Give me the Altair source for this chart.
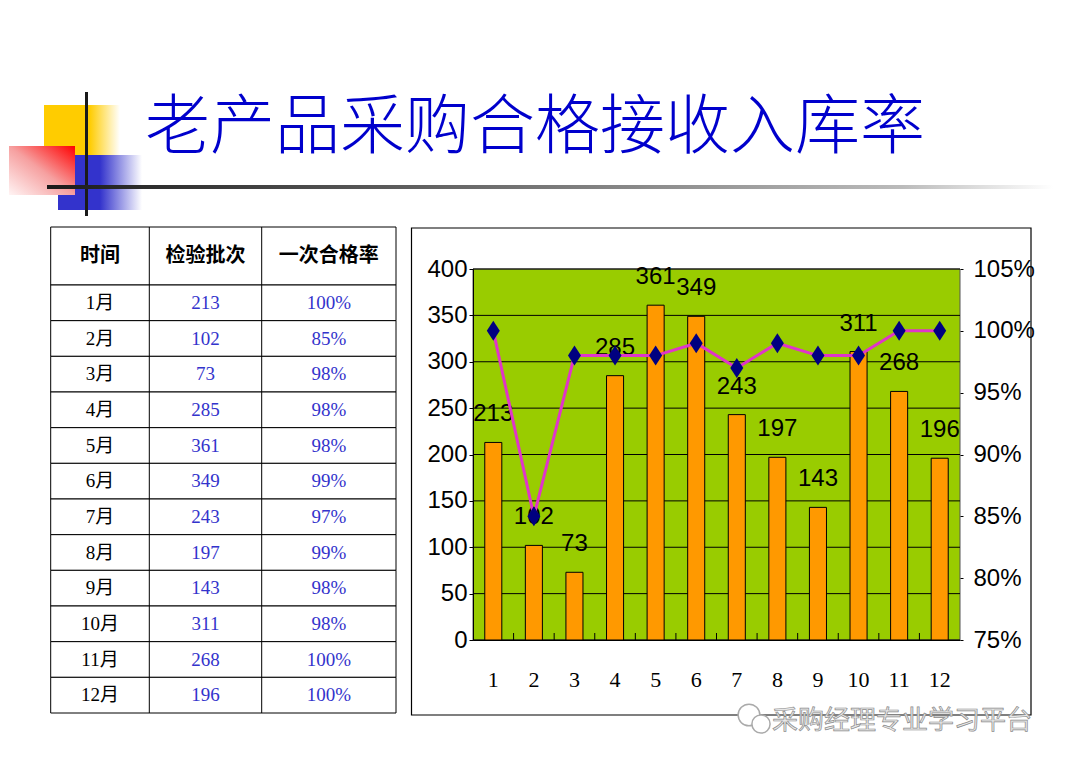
import altair as alt
import pandas as pd

# ---------------- data ----------------
months = list(range(1, 13))
month_labels = [f"{m}月" for m in months]
batches = [213, 102, 73, 285, 361, 349, 243, 197, 143, 311, 268, 196]
rates = [1.00, 0.85, 0.98, 0.98, 0.98, 0.99, 0.97, 0.99, 0.98, 0.98, 1.00, 1.00]
rate_text = ["100%", "85%", "98%", "98%", "98%", "99%", "97%", "99%", "98%", "98%", "100%", "100%"]
table_headers = ["时间", "检验批次", "一次合格率"]
left_ticks = [0, 50, 100, 150, 200, 250, 300, 350, 400]
right_ticks = [0.75, 0.80, 0.85, 0.90, 0.95, 1.00, 1.05]
title_text = "老产品采购合格接收入库率"
watermark_text = "采购经理专业学习平台"

df = pd.DataFrame({"month": months, "label": month_labels, "batches": batches,
                   "rate": rates, "rate_txt": rate_text})
ticks_df = pd.DataFrame({"v": left_ticks})
bounds_df = pd.DataFrame({"month": months[:-1]})
one = pd.DataFrame({"d": [0]})

W, H = 1049, 751
SERIF = "Liberation Serif, 'Noto Sans CJK SC'"
SANS = "Liberation Sans, Arial"
CJK = "'Noto Sans CJK SC'"

# plot geometry (canvas px)
PX0, PX1 = 465, 952
PY0, PY1 = 632, 261
STEP = (PX1 - PX0) / len(months)


def grad(stops, x1=0, y1=0, x2=1, y2=0):
    return alt.LinearGradient(
        gradient="linear",
        stops=[alt.GradientStop(color=c, offset=o) for o, c in stops],
        x1=x1, y1=y1, x2=x2, y2=y2)


def box(x, x2, y, y2, **kw):
    return alt.Chart(one).mark_rect(**kw).encode(
        x=alt.value(x), x2=alt.value(x2), y=alt.value(y), y2=alt.value(y2))


# ---------------- decorations ----------------
yellow = box(36, 112, 97, 150, fill=grad([(0, "#FFCC00"), (0.6, "#FFCC00"), (1, "#FFFFFF")]))
blue = box(50, 134, 147, 202, fill=grad([(0, "#3333CC"), (0.5, "#3333CC"), (1, "#FFFFFF")]))
red = box(1, 67, 138, 187, fill=grad([(0, "#FF0000"), (0.5, "#F6A0A0"), (1, "#FFF4F4")],
                                      x1=1, y1=0, x2=0, y2=1))
vline = box(77, 80, 84, 208, fill="#1A1A1A")
hline = box(39, 1045, 177, 181, fill=grad([(0, "#1A1A1A"), (0.4, "#666666"),
                                           (0.85, "#BBBBBB"), (1, "#FFFFFF")]))
title = alt.Chart(one).mark_text(
    text=title_text, font=CJK, fontSize=65, fontWeight=300, color="#0000CC",
    align="left", baseline="middle").encode(x=alt.value(137), y=alt.value(120))

# ---------------- table ----------------
TX0, TX1 = 42.7, 388
TC1, TC2 = 141.3, 253.7
TY0, TYH, TY1 = 219, 277, 705
row_scale = alt.Scale(domain=month_labels, range=[TYH, TY1], paddingInner=0, paddingOuter=0)

header_box = box(TX0, TX1, TY0, TYH, fill="white", stroke="black", strokeWidth=1)
rows = alt.Chart(df).mark_rect(fill="white", stroke="black", strokeWidth=1).encode(
    y=alt.Y("label:N", scale=row_scale, axis=None),
    x=alt.value(TX0), x2=alt.value(TX1))
div1 = alt.Chart(one).mark_rule(color="black", strokeWidth=1).encode(
    x=alt.value(TC1), y=alt.value(TY0), y2=alt.value(TY1))
div2 = alt.Chart(one).mark_rule(color="black", strokeWidth=1).encode(
    x=alt.value(TC2), y=alt.value(TY0), y2=alt.value(TY1))

col_centers = [(TX0 + TC1) / 2, (TC1 + TC2) / 2, (TC2 + TX1) / 2]
headers = [alt.Chart(one).mark_text(text=h, font=SERIF, fontSize=20, fontWeight="bold",
                                    color="black", align="center", baseline="middle").encode(
    x=alt.value(cx), y=alt.value((TY0 + TYH) / 2))
    for h, cx in zip(table_headers, col_centers)]

def col_text(field, cx, color):
    return alt.Chart(df).mark_text(font=SERIF, fontSize=19, color=color,
                                   align="center", baseline="middle").encode(
        y=alt.Y("label:N", scale=row_scale, axis=None),
        x=alt.value(cx), text=f"{field}:N")

body = [col_text("label", col_centers[0], "black"),
        col_text("batches", col_centers[1], "#3333CC"),
        col_text("rate_txt", col_centers[2], "#3333CC")]

# ---------------- combo chart ----------------
frame = box(403.5, 1023, 220, 707, fill="white", stroke="black", strokeWidth=1.2)
plot_bg = box(PX0, PX1, PY1, PY0, fill="#99CC00", stroke="#555555", strokeWidth=1)

band_x = alt.Scale(domain=months, range=[PX0, PX1], paddingInner=0.58, paddingOuter=0.29)
point_x = alt.Scale(type="point", domain=months, range=[PX0, PX1], padding=0.5)
y_left = alt.Scale(domain=[0, 400], range=[PY0, PY1])
y_right = alt.Scale(domain=[0.75, 1.05], range=[PY0, PY1])

grid = alt.Chart(ticks_df).mark_rule(color="black", strokeWidth=1).encode(
    y=alt.Y("v:Q", scale=y_left, axis=None),
    x=alt.value(PX0), x2=alt.value(PX1))

band_ticks = alt.Chart(bounds_df).mark_rule(color="black", strokeWidth=1,
                                            xOffset=STEP / 2).encode(
    x=alt.X("month:O", scale=point_x, axis=None),
    y=alt.value(PY0 - 7), y2=alt.value(PY0))

bars = alt.Chart(df).mark_bar(color="#FF9900", stroke="black", strokeWidth=1).encode(
    x=alt.X("month:O", scale=band_x,
            axis=alt.Axis(orient="bottom", offset=PY0 - H, title=None, labelAngle=0,
                          labelFont=SERIF, labelFontSize=22, labelColor="black",
                          labelPadding=29, ticks=False, domain=True, domainColor="black",
                          domainWidth=1, grid=False, zindex=1)),
    y=alt.Y("batches:Q", scale=y_left,
            axis=alt.Axis(orient="left", offset=-PX0, values=left_ticks, title=None,
                          labelFont=SANS, labelFontSize=24, labelColor="black",
                          tickSize=4, tickColor="black", labelPadding=2,
                          domain=True, domainColor="black", domainWidth=1,
                          grid=False, zindex=1)))

labels = alt.Chart(df).mark_text(font=SANS, fontSize=24, color="black", dy=-28,
                                 baseline="middle").encode(
    x=alt.X("month:O", scale=band_x, axis=None),
    y=alt.Y("batches:Q", scale=y_left, axis=None),
    text="batches:Q")

line = alt.Chart(df).mark_line(color="#E035C8", strokeWidth=3).encode(
    x=alt.X("month:O", scale=point_x, axis=None),
    y=alt.Y("rate:Q", scale=y_right,
            axis=alt.Axis(orient="right", offset=PX1 - W, values=right_ticks, format=".0%",
                          title=None, labelFont=SANS, labelFontSize=24, labelColor="black",
                          tickSize=3, tickColor="black", labelPadding=10,
                          domain=False, grid=False, zindex=1)))

points = alt.Chart(df).mark_point(shape="M-0.65,0L0,-1L0.65,0L0,1Z", size=400, filled=True,
                                  color="#000080", opacity=1).encode(
    x=alt.X("month:O", scale=point_x, axis=None),
    y=alt.Y("rate:Q", scale=y_right, axis=None))

# ---------------- watermark ----------------
bubble1 = alt.Chart(one).mark_point(shape="circle", size=470, fill="white", stroke="#AAAAAA",
                                    strokeWidth=1.5, opacity=1).encode(
    x=alt.value(741), y=alt.value(707))
bubble2 = alt.Chart(one).mark_point(shape="circle", size=330, fill="white", stroke="#AAAAAA",
                                    strokeWidth=1.5, opacity=1).encode(
    x=alt.value(753), y=alt.value(716))
wm = alt.Chart(one).mark_text(text=watermark_text, font=CJK, fontSize=26, fill="#E8E8E8",
                              stroke="#8C8C8C", strokeWidth=0.7, align="left",
                              baseline="middle").encode(x=alt.value(764), y=alt.value(713))

layers = [yellow, blue, red, vline, hline, title,
          header_box, rows, div1, div2] + headers + body + [
          frame, plot_bg, grid, band_ticks, bars, labels, line, points,
          bubble1, bubble2, wm]

chart = alt.layer(*layers).resolve_scale(
    x="independent", y="independent").resolve_axis(
    x="independent", y="independent").properties(
    width=W, height=H, padding=0,
    autosize=alt.AutoSizeParams(type="none"),
    background="white").configure_view(stroke=None)

chart.save("out.html", embed_options={"renderer": "svg", "actions": False})
